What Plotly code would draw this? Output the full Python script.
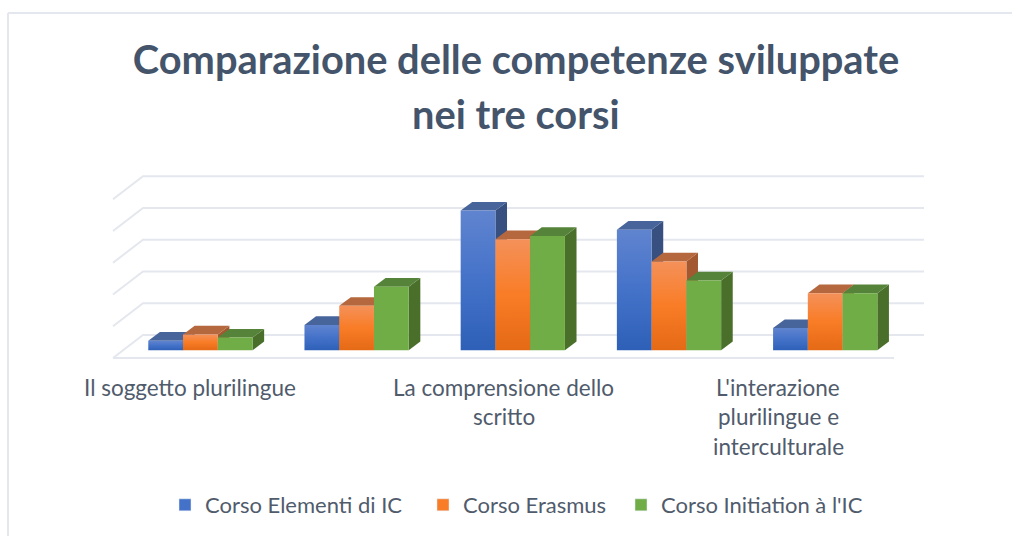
import plotly.graph_objects as go

title_lines = ["Comparazione delle competenze sviluppate", "nei tre corsi"]
categories = ["Il soggetto plurilingue", "", "La comprensione dello\nscritto", "", "L'interazione\nplurilingue e\ninterculturale"]
series_names = ["Corso Elementi di IC", "Corso Erasmus", "Corso Initiation à l'IC"]
elementi = [1.5, 4, 22, 19, 3.5]
erasmus = [2.5, 7, 17.5, 14, 9]
initiation = [2, 10, 18, 11, 9]
gridlines = [0, 5, 10, 15, 20, 25]

W, H = 1012, 536
# pixels for one category / one value unit, and where x=0, y=0 sit on the page
PX_X, PX_Y = 156.2, 6.35
X0, Y0 = 200.4, 350.3
BAR_W = 34.75 / PX_X

TEXT = "#505B6C"
GRID = "#E4E7ED"
FONT = "Lato"

# front gradient (bottom, mid, top), top face, side face
styles = [
    dict(front=["#2E60B8", "#4472C9", "#6084CF"], top="#48659B", side="#37507F"),
    dict(front=["#E56A16", "#F97C26", "#F4915A"], top="#B5683E", side="#A3582F"),
    dict(front=["#70AD47", "#70AD47", "#70AD47"], top="#56833A", side="#4A6F2B"),
]


def dx(px):
    return px / PX_X


def dy(px):
    return px / PX_Y


def poly(xs, ys, color=None, gradient=None):
    tr = go.Scatter(x=xs, y=ys, mode="lines", fill="toself", line=dict(width=0),
                    hoverinfo="skip", showlegend=False)
    if gradient:
        tr.fillgradient = dict(type="vertical",
                               colorscale=[[0, gradient[0]], [0.5, gradient[1]], [1, gradient[2]]])
    else:
        tr.fillcolor = color
    return tr


fig = go.Figure()

# back wall, left wall and floor lines
wall_l = dx(113 - X0)
wall_r = dx(924 - X0)
back_y = dy(350.3 - 335)
wall_dx, wall_dy = dx(30), dy(23)
for g in gridlines:
    y = back_y + g
    fig.add_trace(go.Scatter(x=[wall_l, wall_l + wall_dx, wall_r], y=[y - wall_dy, y, y], mode="lines",
                             line=dict(color=GRID, width=2), hoverinfo="skip", showlegend=False))
fig.add_trace(go.Scatter(x=[wall_l, wall_r - wall_dx], y=[back_y - wall_dy] * 2, mode="lines",
                         line=dict(color=GRID, width=2), hoverinfo="skip", showlegend=False))

# 3d columns: side and top face first, then the front
depth_x, depth_y = dx(11.6), dy(8.7)
for i in range(len(categories)):
    for j, values in enumerate([elementi, erasmus, initiation]):
        v = values[i]
        s = styles[j]
        left = i + (j - 1.5) * BAR_W
        right = left + BAR_W
        fig.add_trace(poly([right, right + depth_x, right + depth_x, right, right],
                           [0, depth_y, v + depth_y, v, 0], color=s["side"]))
        fig.add_trace(poly([left, left + depth_x, right + depth_x, right, left],
                           [v, v + depth_y, v + depth_y, v, v], color=s["top"]))
        fig.add_trace(poly([left, right, right, left, left], [0, 0, v, v, 0], gradient=s["front"]))

# one legend per series so each entry can sit where it does in the original
legend_keys = ["legend", "legend2", "legend3"]
legend_left = [165, 423, 621]
legends = {}
for name, s, key, lx in zip(series_names, styles, legend_keys, legend_left):
    fig.add_trace(go.Bar(x=[None], y=[None], name=name, marker_color=s["front"][1], legend=key))
    legends[key] = dict(x=lx / W, xanchor="left", y=1 - 505 / H, yanchor="middle",
                        font=dict(family=FONT, size=22, color=TEXT), bgcolor="rgba(0,0,0,0)")

# category labels, one annotation per line for the wider line spacing
label_x = {0: 190, 2: 503.5, 4: 778}
for i, label in enumerate(categories):
    if not label:
        continue
    for k, line in enumerate(label.split("\n")):
        fig.add_annotation(x=(label_x[i] - X0) / PX_X, y=(Y0 - (387 + 29.5 * k)) / PX_Y, text=line,
                           showarrow=False, font=dict(family=FONT, size=22.5, color=TEXT))

fig.add_annotation(x=(516 - X0) / PX_X, y=(Y0 - 113) / PX_Y, text=f"<b>{title_lines[1]}</b>", showarrow=False,
                   font=dict(family=FONT, size=39.8, color="#44546A"))

fig.update_layout(
    width=W, height=H,
    margin=dict(l=0, r=0, t=0, b=0),
    paper_bgcolor="white", plot_bgcolor="white",
    title=dict(text=f"<b>{title_lines[0]}</b>", x=516 / W, y=1 - 60 / H, xanchor="center", yanchor="middle",
               font=dict(family=FONT, size=39.8, color="#44546A")),
    xaxis=dict(visible=False, range=[-X0 / PX_X, (W - X0) / PX_X]),
    yaxis=dict(visible=False, range=[(Y0 - H) / PX_Y, Y0 / PX_Y]),
    shapes=[
        dict(type="line", xref="paper", yref="paper", x0=8 / W, x1=1, y0=1 - 13 / H, y1=1 - 13 / H,
             line=dict(color=GRID, width=2)),
        dict(type="line", xref="paper", yref="paper", x0=8 / W, x1=8 / W, y0=0, y1=1 - 13 / H,
             line=dict(color=GRID, width=2)),
    ],
    **legends,
)

fig.write_html("out.html", post_script="document.body.style.margin='0';", config=dict(displayModeBar=False))
